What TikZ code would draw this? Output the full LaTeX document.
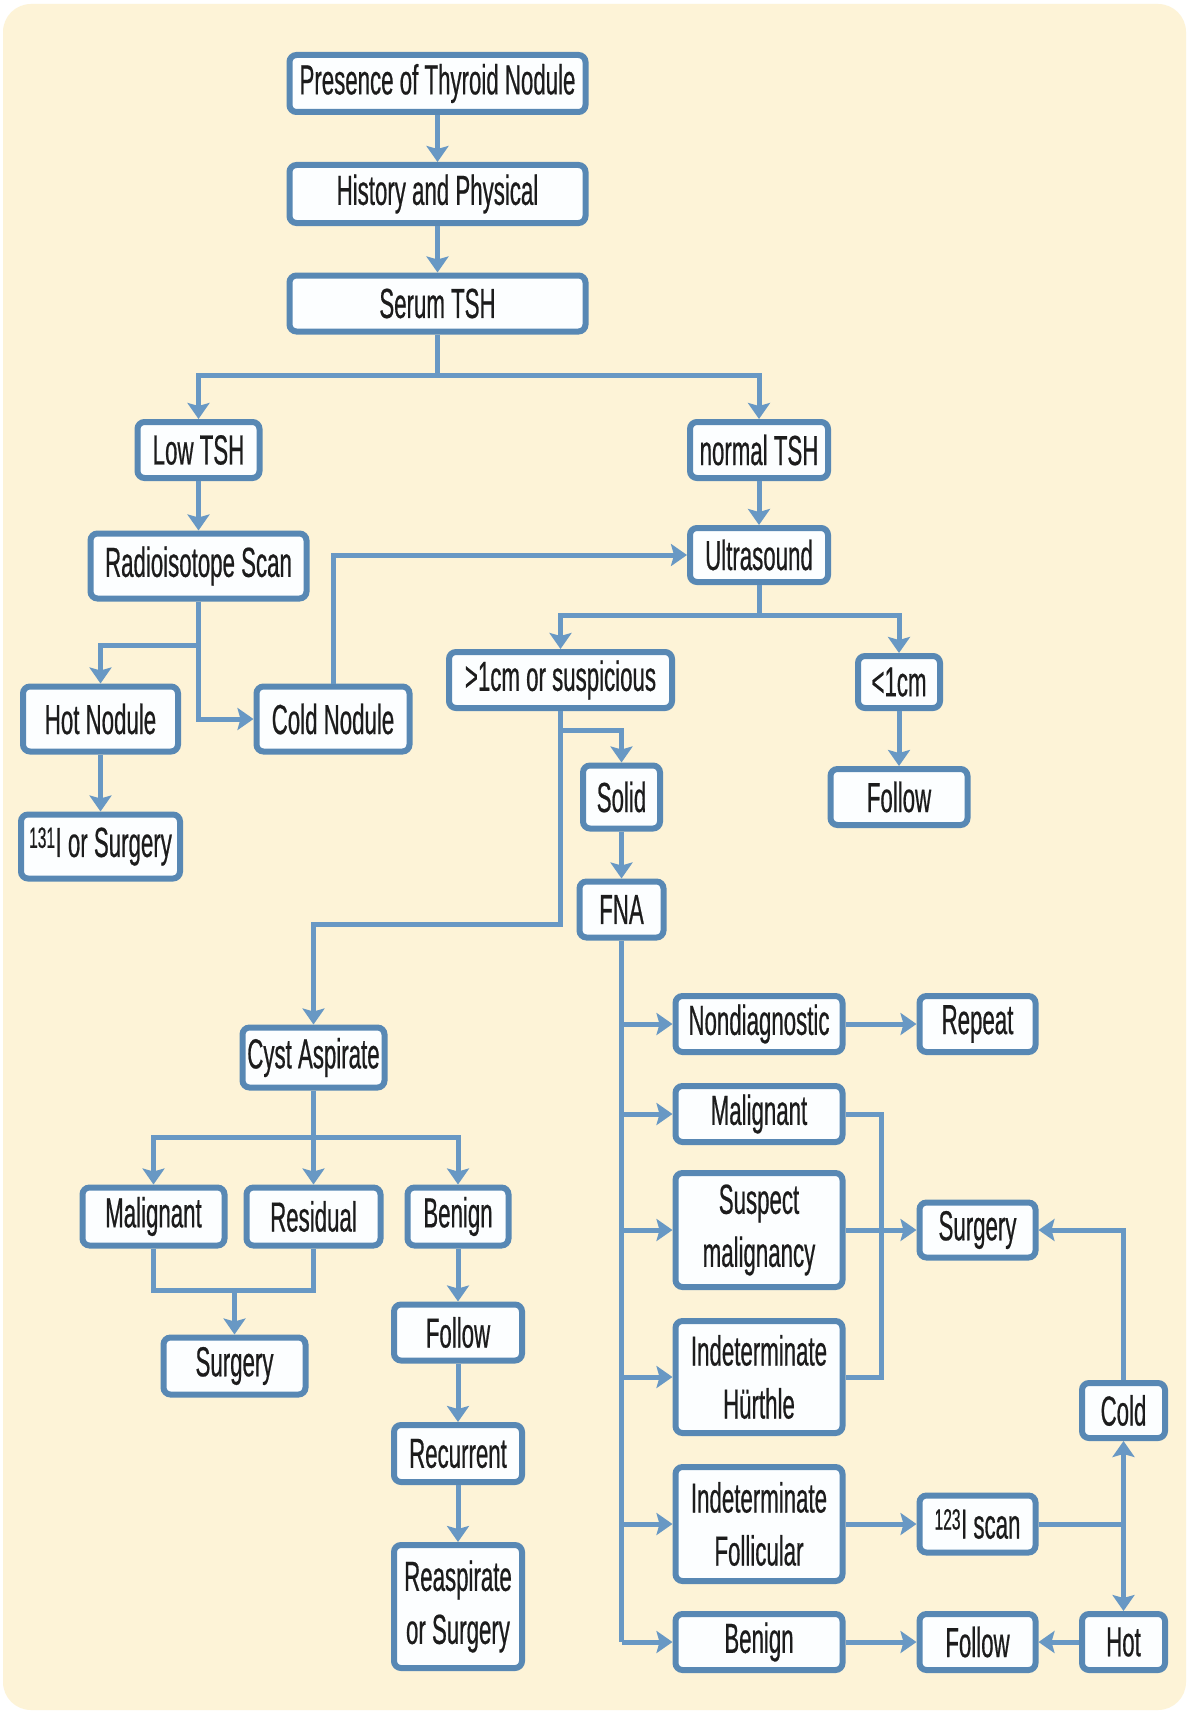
\documentclass[tikz,border=0pt]{standalone}
\usepackage{fontspec}
\usetikzlibrary{arrows.meta}
\newfontfamily\boxfont{Liberation Sans}[FakeStretch=0.53,FakeBold=0.5]
\definecolor{cream}{RGB}{253,243,215}
\definecolor{boxblue}{RGB}{88,136,180}
\definecolor{lineblue}{RGB}{104,152,196}
\definecolor{boxfill}{RGB}{252,254,255}
\definecolor{txt}{RGB}{28,28,28}
\tikzset{
  box/.style={draw=boxblue, line width=6pt, fill=boxfill, rounded corners=7pt,
    inner sep=0pt, align=center, text=txt, font=\boxfont\fontsize{42}{53}\selectfont},
  ln/.style={draw=lineblue, line width=5pt},
  arr/.style={ln, -{Stealth[width=22pt,length=16pt,inset=3pt]}}
}
\begin{document}
\begin{tikzpicture}[x=1pt,y=-1pt]
\useasboundingbox (0,0) rectangle (1192,1715);
\fill[white] (0,0) rectangle (1192,1715);
\fill[cream, rounded corners=28pt] (3,4) rectangle (1186,1710);

% nodes
\node[box, minimum width=296pt, minimum height=57pt] (n1) at (437.5,83.5) {Presence of Thyroid Nodule};
\node[box, minimum width=296pt, minimum height=58pt] (n2) at (437.5,194) {History and Physical};
\node[box, minimum width=296pt, minimum height=56pt] (n3) at (437.5,303.5) {Serum TSH};
\node[box, minimum width=122pt, minimum height=56pt] (lowtsh) at (198.5,450) {Low TSH};
\node[box, minimum width=138pt, minimum height=56pt] (normtsh) at (759,450) {normal TSH};
\node[box, minimum width=216pt, minimum height=65pt] (radio) at (198.5,566) {Radioisotope Scan};
\node[box, minimum width=138pt, minimum height=54pt] (ultra) at (759,555) {Ultrasound};
\node[box, minimum width=155pt, minimum height=65pt] (hot) at (100.5,719) {Hot Nodule};
\node[box, minimum width=153pt, minimum height=65pt] (cold) at (333,719) {Cold Nodule};
\node[box, minimum width=159pt, minimum height=64pt] (i131) at (100.5,846.5) {\textsuperscript{131}I or Surgery};
\node[box, minimum width=223pt, minimum height=56pt] (big) at (560.5,680) {>1cm or suspicious};
\node[box, minimum width=82pt, minimum height=52pt] (small) at (899,682) {<1cm};
\node[box, minimum width=137pt, minimum height=56pt] (follTR) at (899,797) {Follow};
\node[box, minimum width=77pt, minimum height=63pt] (solid) at (621.5,797) {Solid};
\node[box, minimum width=84pt, minimum height=56pt] (fna) at (621.5,909.5) {FNA};
\node[box, minimum width=167pt, minimum height=56pt] (nondiag) at (759,1024) {Nondiagnostic};
\node[box, minimum width=116pt, minimum height=56pt] (repeat) at (977.5,1024) {Repeat};
\node[box, minimum width=167pt, minimum height=56pt] (malR) at (759,1114) {Malignant};
\node[box, minimum width=167pt, minimum height=114pt] (susp) at (759,1230) {Suspect\\malignancy};
\node[box, minimum width=167pt, minimum height=112pt] (hur) at (759,1377) {Indeterminate\\Hürthle};
\node[box, minimum width=167pt, minimum height=114pt] (foll) at (759,1524) {Indeterminate\\Follicular};
\node[box, minimum width=167pt, minimum height=56pt] (benR) at (759,1642) {Benign};
\node[box, minimum width=116pt, minimum height=55pt] (surgR) at (977.5,1230) {Surgery};
\node[box, minimum width=83pt, minimum height=55pt] (coldR) at (1123.5,1410.5) {Cold};
\node[box, minimum width=116pt, minimum height=57pt] (scan) at (977.5,1524) {\textsuperscript{123}I scan};
\node[box, minimum width=116pt, minimum height=56pt] (follB) at (977.5,1642) {Follow};
\node[box, minimum width=83pt, minimum height=56pt] (hotR) at (1123.5,1642) {Hot};
\node[box, minimum width=142pt, minimum height=60pt] (cyst) at (313.5,1057.5) {Cyst Aspirate};
\node[box, minimum width=142pt, minimum height=58pt] (malL) at (153.5,1216.5) {Malignant};
\node[box, minimum width=134pt, minimum height=58pt] (resid) at (313.5,1216.5) {Residual};
\node[box, minimum width=101pt, minimum height=58pt] (benL) at (458,1216.5) {Benign};
\node[box, minimum width=142pt, minimum height=57pt] (surgL) at (234.5,1366) {Surgery};
\node[box, minimum width=128pt, minimum height=56pt] (follL) at (458,1332.5) {Follow};
\node[box, minimum width=128pt, minimum height=57pt] (recur) at (458,1453.5) {Recurrent};
\node[box, minimum width=128pt, minimum height=123pt] (reasp) at (458,1606.5) {Reaspirate\\or Surgery};

% junction coordinates
\coordinate (b1) at (437.5,375);
\coordinate (r1) at (198.5,645);
\coordinate (u1) at (759,615.5);
\coordinate (g1) at (560.5,730.5);
\coordinate (g2) at (560.5,924);
\coordinate (f0) at (621.5,1642);
\coordinate (cm) at (881.5,1114);
\coordinate (ch) at (881.5,1377);
\coordinate (s1) at (1123.5,1524);
\coordinate (k1) at (313.5,1137.5);
\coordinate (j1) at (153.5,1290.5);
\coordinate (j2) at (313.5,1290.5);
\coordinate (j3) at (234.5,1290.5);

% connectors
\draw[arr] (n1) -- (n2);
\draw[arr] (n2) -- (n3);
\draw[ln] (n3.south) -- (b1);
\draw[arr] (b1) -| (lowtsh.north);
\draw[arr] (b1) -| (normtsh.north);
\draw[arr] (lowtsh) -- (radio);
\draw[arr] (normtsh) -- (ultra);
\draw[ln] (radio.south) -- (r1);
\draw[arr] (r1) -| (hot.north);
\draw[arr] (r1) |- (cold.west);
\draw[arr] (cold.north) |- (ultra.west);
\draw[arr] (hot) -- (i131);
\draw[ln] (ultra.south) -- (u1);
\draw[arr] (u1) -| (big.north);
\draw[arr] (u1) -| (small.north);
\draw[arr] (small) -- (follTR);
\draw[ln] (big.south) -- (g1);
\draw[arr] (g1) -| (solid.north);
\draw[arr] (g1) -- (g2) -| (cyst.north);
\draw[arr] (solid) -- (fna);
\draw[ln] (fna.south) -- (f0);
\draw[arr] (fna.south |- nondiag.west) -- (nondiag.west);
\draw[arr] (fna.south |- malR.west) -- (malR.west);
\draw[arr] (fna.south |- susp.west) -- (susp.west);
\draw[arr] (fna.south |- hur.west) -- (hur.west);
\draw[arr] (fna.south |- foll.west) -- (foll.west);
\draw[arr] (f0) -- (benR.west);
\draw[arr] (nondiag) -- (repeat);
\draw[ln] (malR.east) -- (cm) -- (ch) -- (hur.east);
\draw[arr] (susp) -- (surgR);
\draw[arr] (coldR.north) |- (surgR.east);
\draw[arr] (foll) -- (scan);
\draw[ln] (scan.east) -- (s1);
\draw[arr] (s1) -- (coldR.south);
\draw[arr] (s1) -- (hotR.north);
\draw[arr] (hotR) -- (follB);
\draw[arr] (benR) -- (follB);
\draw[ln] (cyst.south) -- (k1);
\draw[arr] (k1) -| (malL.north);
\draw[arr] (k1) -- (resid.north);
\draw[arr] (k1) -| (benL.north);
\draw[ln] (malL.south) -- (j1) -- (j2) -- (resid.south);
\draw[arr] (j3) -- (surgL.north);
\draw[arr] (benL) -- (follL);
\draw[arr] (follL) -- (recur);
\draw[arr] (recur) -- (reasp);
\end{tikzpicture}
\end{document}
